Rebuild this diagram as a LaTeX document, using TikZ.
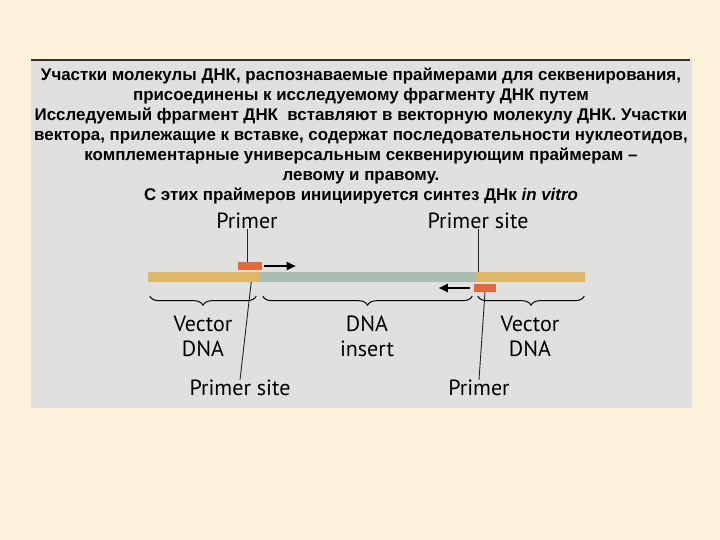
\documentclass[tikz,border=0pt]{standalone}
\usepackage{fontspec}
\setmainfont{Liberation Sans}
\newfontfamily\labfont{PT Sans}
\usepackage{xcolor}
\usetikzlibrary{arrows.meta,decorations.pathreplacing}
\definecolor{paper}{HTML}{FCF3DA}
\definecolor{panel}{HTML}{E0E0E0}
\definecolor{vec}{HTML}{DDB66C}
\definecolor{ins}{HTML}{A8BCB1}
\definecolor{prim}{HTML}{E5683B}

\begin{document}
\begin{tikzpicture}[x=1pt, y=-1pt,
  >={Triangle[length=9pt,width=8pt]},
  head/.style={font=\bfseries\fontsize{16.9}{20}\selectfont, align=center, inner sep=0pt},
  lbl/.style={font=\labfont\fontsize{22}{25}\selectfont, align=center, inner sep=0pt},
  seg/.style={rectangle, draw=none, inner sep=0pt, minimum height=10pt},
  pbox/.style={rectangle, draw=none, fill=prim, inner sep=0pt, minimum width=24pt, minimum height=8pt},
  pin/.style={line width=0.9pt, black!85},
  dirarr/.style={->, line width=1.8pt, black},
  brc/.style={decorate, decoration={brace, amplitude=9pt, mirror}, line width=1pt, black},
]

% ---------- background and panel ----------
\fill[paper] (0,0) rectangle (720,540);
\fill[panel] (31,59) rectangle (692,408);
\draw[line width=1.6pt, black!80] (31,60) -- (690,60);

% ---------- heading text ----------
\node[head] (H) at (361,136) {%
  Участки молекулы ДНК, распознаваемые праймерами для секвенирования,\\
  присоединены к исследуемому фрагменту ДНК путем\\
  Исследуемый фрагмент ДНК\ \ вставляют в векторную молекулу ДНК. Участки\\
  вектора, прилежащие к вставке, содержат последовательности нуклеотидов,\\
  комплементарные универсальным секвенирующим праймерам --\\
  левому и правому.\\
  С этих праймеров инициируется синтез ДНк \textit{in vitro}};

% ---------- DNA bar ----------
\node[seg, fill=vec, minimum width=112pt] (VL) at (204,277) {};
\node[seg, fill=ins, minimum width=215pt] (INS) at (367.5,277) {};
\node[seg, fill=vec, minimum width=110pt] (VR) at (530,277) {};

% primers and their direction
\node[pbox] (PB1) at (249.5,266) {};
\node[pbox, minimum width=22pt] (PB2) at (485,288) {};
\draw[dirarr] ([xshift=2pt]PB1.east) -- ([xshift=34pt]PB1.east);
\draw[dirarr] ([xshift=-4pt]PB2.west) -- ([xshift=-35pt]PB2.west);

% ---------- labels above ----------
\node[lbl] (P1) at (247,221) {Primer};
\node[lbl] (PS2) at (478,221) {Primer site};
\draw[pin] (P1.south) -- (P1.south |- PB1.north);
\draw[pin] (PS2.south) -- (PS2.south |- VR.north);

% ---------- braces and labels below ----------
\draw[brc] ([xshift=2pt,yshift=-14pt]VL.south west) -- ([xshift=-4pt,yshift=-14pt]VL.south east);
\draw[brc] ([xshift=3pt,yshift=-14pt]INS.south west) -- ([xshift=-3pt,yshift=-14pt]INS.south east);
\draw[brc] ([xshift=3pt,yshift=-14pt]VR.south west) -- ([xshift=-1pt,yshift=-14pt]VR.south east);
\node[lbl] (L1) at (203,336) {Vector\\DNA};
\node[lbl] (L2) at (367,336) {DNA\\insert};
\node[lbl] (L3) at (530,336) {Vector\\DNA};

\node[lbl] (PS1) at (240,388) {Primer site};
\node[lbl] (P2) at (479,388) {Primer};
\draw[pin] ([xshift=-9pt]VL.south east) -- (PS1.north);
\draw[pin] (PB2.south) -- (P2.north);

\end{tikzpicture}
\end{document}
